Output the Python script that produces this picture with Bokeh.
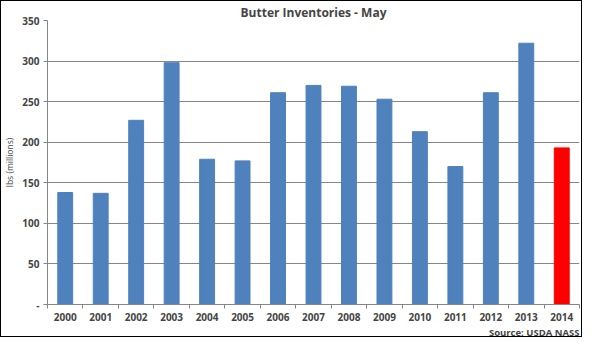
from bokeh.plotting import figure
from bokeh.models import FixedTicker, Range1d, Title
from bokeh.embed import file_html
from bokeh.resources import INLINE

years = [2000, 2001, 2002, 2003, 2004, 2005, 2006, 2007, 2008, 2009, 2010, 2011, 2012, 2013, 2014]
values = [138, 137, 227, 298, 179, 177, 261, 270, 269, 253, 213, 170, 261, 322, 193]
colors = ["#4F81BD"] * 14 + ["#FF0000"]
y_ticks = [0, 50, 100, 150, 200, 250, 300, 350]

p = figure(width=582, height=337, output_backend="svg", toolbar_location=None,
           x_range=Range1d(years[0] - 0.5, years[-1] + 0.5), y_range=Range1d(0, 350),
           min_border_left=36, min_border_right=4, min_border_top=12, min_border_bottom=0)
p.styles = {"border": "1px solid black"}
p.outline_line_color = None

p.vbar(x=years, top=values, width=0.42, color=colors)

p.title.text = "Butter Inventories - May"
p.title.align = "center"
p.title.text_font = "Open Sans"
p.title.text_font_size = "12px"
p.title.text_font_style = "bold"
p.title.standoff = 0

src = Title(text="Source: USDA NASS", align="right", standoff=0, offset=0,
            text_font="Open Sans", text_font_size="9.5px", text_font_style="bold")
p.add_layout(src, "below")

p.xaxis.ticker = FixedTicker(ticks=years, minor_ticks=[y - 0.5 for y in years] + [years[-1] + 0.5])
p.xaxis.major_label_overrides = {y: str(y) for y in years}
p.xaxis.major_tick_line_color = None
p.xaxis.minor_tick_in = 0
p.xaxis.minor_tick_out = 4
p.xaxis.minor_tick_line_color = "#868686"
p.xaxis.axis_line_color = "#868686"
p.xaxis.major_label_text_font = "Open Sans"
p.xaxis.major_label_text_font_size = "10px"
p.xaxis.major_label_text_font_style = "bold"
p.xaxis.major_label_standoff = 2

p.yaxis.ticker = FixedTicker(ticks=y_ticks)
p.yaxis.major_label_overrides = {0: "-"}
p.yaxis.minor_tick_line_color = None
p.yaxis.major_tick_in = 0
p.yaxis.major_tick_out = 4
p.yaxis.major_tick_line_color = "#868686"
p.yaxis.axis_line_color = "#868686"
p.yaxis.major_label_text_font = "Open Sans"
p.yaxis.major_label_text_font_size = "10px"
p.yaxis.major_label_text_font_style = "bold"
p.yaxis.major_label_standoff = 4
p.yaxis.axis_label = "lbs (millions)"
p.yaxis.axis_label_text_font = "Open Sans"
p.yaxis.axis_label_text_font_size = "8.5px"
p.yaxis.axis_label_text_font_style = "normal"
p.yaxis.axis_label_standoff = 4

p.xgrid.grid_line_color = None
p.ygrid.grid_line_color = "#868686"
p.ygrid.grid_line_width = 1

open("out.html", "w").write(file_html(p, INLINE))
